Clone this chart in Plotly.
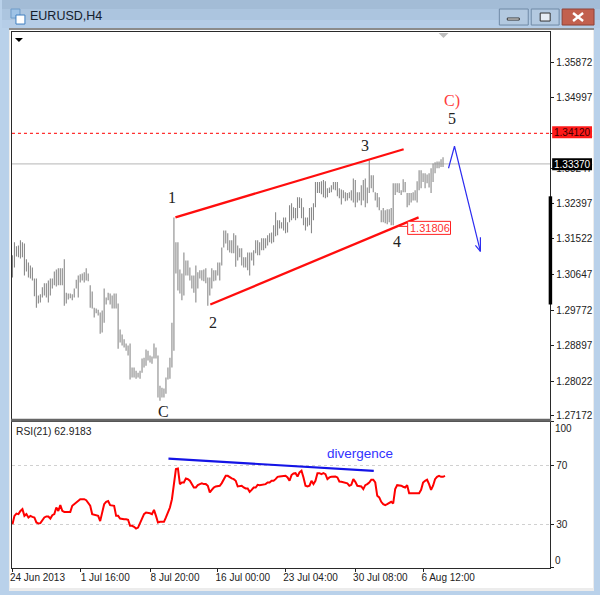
import plotly.graph_objects as go

W, H = 600, 595
VSCALE = 1.005

# ---------- data ----------
HIGH = [
 1.3112,1.3144,1.3134,1.3136,1.3149,1.3144,1.3141,1.3102,1.3094,1.3087,1.3082,1.3055,1.3055,1.3013,1.3016,1.3033,
 1.3043,1.3043,1.3050,1.3055,1.3055,1.3072,1.3077,1.3080,1.3080,1.3080,1.3102,1.3020,1.3018,1.3018,1.3016,1.3030,
 1.3052,1.3062,1.3065,1.3067,1.3070,1.3080,1.3067,1.3038,1.3023,1.2983,1.2981,1.2978,1.2971,1.2976,1.3030,1.3008,
 1.3020,1.3018,1.3013,1.3018,1.3018,1.2993,1.2929,1.2917,1.2905,1.2895,1.2890,1.2895,1.2836,1.2836,1.2828,1.2823,
 1.2828,1.2858,1.2860,1.2880,1.2877,1.2865,1.2863,1.2895,1.2885,1.2865,1.2791,1.2786,1.2784,1.2811,1.2836,1.2860,
 1.2946,1.3205,
 1.3144,1.3144,1.3077,1.3067,1.3119,1.3099,1.3099,1.3082,1.3062,1.3062,1.3087,1.3070,1.3075,1.3075,1.3077,1.3080,
 1.3057,1.3057,1.3080,1.3075,1.3075,1.3094,1.3094,1.3131,1.3173,1.3173,1.3166,1.3149,1.3149,1.3166,1.3161,1.3136,
 1.3129,1.3129,1.3107,1.3107,1.3119,1.3119,1.3119,1.3124,1.3149,1.3149,1.3144,1.3154,1.3154,1.3154,1.3161,1.3166,
 1.3168,1.3186,1.3218,1.3198,1.3198,1.3193,1.3205,1.3205,1.3193,1.3235,1.3240,1.3230,1.3228,1.3255,1.3255,1.3252,
 1.3230,1.3205,1.3205,1.3228,1.3230,1.3240,1.3292,1.3292,1.3292,1.3294,1.3297,1.3294,1.3277,1.3279,1.3284,1.3292,
 1.3292,1.3292,1.3277,1.3274,1.3272,1.3267,1.3265,1.3267,1.3272,1.3301,1.3297,1.3267,1.3267,1.3284,1.3297,1.3301,
 1.3279,1.3346,1.3309,1.3309,1.3267,1.3265,1.3255,1.3223,1.3228,1.3223,1.3225,1.3225,1.3228,1.3289,1.3289,1.3289,
 1.3289,1.3272,1.3299,1.3292,1.3265,1.3265,1.3265,1.3267,1.3272,1.3294,1.3321,1.3321,1.3314,1.3314,1.3311,1.3314,
 1.3326,1.3338,1.3341,1.3343,1.3343,1.3348,1.3353]
LOW = [
 1.3057,1.3082,1.3109,1.3107,1.3104,1.3107,1.3062,1.3072,1.3057,1.3055,1.3050,1.3011,1.2983,1.2993,1.2996,1.3008,
 1.3013,1.3008,1.2996,1.3013,1.3030,1.3038,1.3035,1.3038,1.3038,1.3038,1.2988,1.2993,1.3003,1.3006,1.3001,1.3008,
 1.3030,1.3008,1.3045,1.3050,1.3045,1.3050,1.3048,1.2983,1.2981,1.2959,1.2969,1.2964,1.2919,1.2922,1.2946,1.2991,
 1.3001,1.2991,1.2981,1.2981,1.2981,1.2882,1.2897,1.2890,1.2885,1.2877,1.2865,1.2806,1.2811,1.2811,1.2808,1.2811,
 1.2808,1.2823,1.2836,1.2840,1.2853,1.2848,1.2845,1.2858,1.2858,1.2762,1.2754,1.2762,1.2762,1.2771,1.2806,1.2808,
 1.2836,1.2877,
 1.3067,1.3025,1.3018,1.3001,1.3013,1.3062,1.3062,1.3050,1.3030,1.3020,1.2996,1.3030,1.3055,1.3050,1.3048,1.3043,
 1.2988,1.3013,1.3030,1.3048,1.3050,1.3062,1.3050,1.3087,1.3131,1.3141,1.3124,1.3119,1.3117,1.3117,1.3084,1.3099,
 1.3107,1.3087,1.3082,1.3082,1.3075,1.3062,1.3099,1.3087,1.3117,1.3112,1.3112,1.3124,1.3124,1.3129,1.3136,1.3144,
 1.3141,1.3144,1.3159,1.3161,1.3178,1.3178,1.3173,1.3166,1.3168,1.3193,1.3198,1.3203,1.3198,1.3203,1.3228,1.3203,
 1.3186,1.3173,1.3183,1.3186,1.3166,1.3198,1.3230,1.3265,1.3265,1.3262,1.3255,1.3252,1.3255,1.3265,1.3267,1.3274,
 1.3272,1.3257,1.3252,1.3237,1.3252,1.3245,1.3247,1.3252,1.3247,1.3242,1.3230,1.3242,1.3247,1.3235,1.3247,1.3230,
 1.3240,1.3265,1.3277,1.3267,1.3247,1.3230,1.3223,1.3193,1.3193,1.3191,1.3188,1.3193,1.3186,1.3186,1.3260,1.3267,
 1.3265,1.3260,1.3267,1.3267,1.3230,1.3235,1.3242,1.3247,1.3247,1.3242,1.3272,1.3277,1.3292,1.3277,1.3289,1.3279,
 1.3265,1.3292,1.3314,1.3326,1.3326,1.3329,1.3329]
RSI = [
 29.9,35.6,37.2,36.8,39.0,40.2,35.6,36.8,34.5,35.6,34.9,34.5,31.1,30.4,30.6,32.2,34.5,35.2,35.2,33.8,36.1,36.8,41.3,39.0,
 42.9,39.0,38.3,38.3,38.3,38.3,42.5,43.6,44.3,45.9,47.0,47.0,47.0,46.3,44.3,42.5,36.8,36.3,36.1,35.6,32.0,39.0,43.6,45.2,
 45.7,42.9,42.9,42.5,35.6,35.6,33.8,33.3,33.3,33.3,32.9,28.8,28.8,28.1,26.9,27.6,30.6,33.3,36.8,37.9,37.9,37.4,36.8,39.7,
 35.6,31.1,31.5,31.5,31.5,34.5,37.9,41.3,47.0,58.4,67.6,68.0,57.3,58.4,58.4,61.2,60.7,59.6,57.3,55.0,55.0,56.6,57.3,57.8,
 57.3,57.3,56.2,51.6,53.4,55.0,55.7,55.7,56.2,58.0,60.7,63.0,63.0,61.9,61.2,60.7,59.6,55.7,56.2,56.2,55.0,54.3,54.3,52.0,
 53.4,55.0,55.0,56.8,56.6,56.8,57.3,57.3,58.4,58.4,59.6,59.6,60.7,62.3,62.5,62.5,63.0,63.0,61.9,59.6,63.5,64.6,64.8,62.5,
 65.3,66.4,61.9,56.2,55.7,56.2,59.6,57.3,59.6,64.8,64.8,64.1,64.8,64.1,60.7,61.9,62.3,62.3,62.5,61.9,59.1,58.9,58.4,58.4,
 57.8,56.2,56.8,60.7,58.9,56.2,56.2,55.7,53.9,56.6,57.3,58.4,60.3,60.3,58.4,49.3,48.2,45.2,43.6,42.9,43.6,44.7,45.2,44.1,
 53.9,56.6,56.6,56.2,55.5,55.0,56.6,51.1,51.1,51.1,51.1,51.1,51.1,53.4,58.4,59.6,60.3,57.3,53.4,56.2,60.7,62.3,63.0,62.3,
 62.3,62.9]

PRICE_TICKS = [1.35872,1.34997,1.34122,1.33247,1.32397,1.31522,1.30647,1.29772,1.28897,1.28022,1.27172]
TIME_TICKS = [0,34,69,103,137,172,206]
TIME_LABELS = ["24 Jun 2013","1 Jul 16:00","8 Jul 20:00","16 Jul 00:00","23 Jul 04:00","30 Jul 08:00","6 Aug 12:00"]
RSI_TICKS = [100,70,30,0]

LEVEL_PRICE = 1.3412
BID_PRICE = 1.3337
UPPER_X, UPPER_Y = [81.75,196.25],[1.32053,1.33729]
LOWER_X, LOWER_Y = [99.25,203.75],[1.29908,1.32053]
PATH_X, PATH_Y = [218.75,221.75,234.75],[1.33261,1.33803,1.31215]
HEAD_X, HEAD_Y = [234.75,234.75,234.75,232.25],[1.31560,1.31215,1.31215,1.31363]
DIV_X, DIV_Y = [78.25,181.25],[74.7,66.4]

# ---------- helpers ----------
def px(x): return x / W
def py(y): return 1 - y * VSCALE / H
def rect(x0, y0, x1, y1, fill, line=None, lw=1, layer="below"):
    return dict(type="rect", xref="paper", yref="paper", x0=px(x0), x1=px(x1), y0=py(y0), y1=py(y1),
                fillcolor=fill, line=dict(color=line or fill, width=lw if line else 0), layer=layer)
def seg(x0, y0, x1, y1, color, lw=1, layer="above"):
    return dict(type="line", xref="paper", yref="paper", x0=px(x0), x1=px(x1), y0=py(y0), y1=py(y1),
                line=dict(color=color, width=lw), layer=layer)
def label(x, y, text, color="#222", size=10, family="Liberation Sans", xanchor="center"):
    return dict(x=px(x), y=py(y), xref="paper", yref="paper", text=text, showarrow=False,
                font=dict(color=color, size=size, family=family), xanchor=xanchor, yanchor="middle",
                borderpad=0, bgcolor="rgba(0,0,0,0)")

FONT = "Liberation Sans"
SERIF = "Liberation Serif"

fig = go.Figure()

fig.add_trace(go.Ohlc(x=list(range(len(HIGH))), open=LOW, high=HIGH, low=LOW, close=HIGH,
                      tickwidth=0, increasing=dict(line=dict(color="#8a8a8a", width=1.1)),
                      decreasing=dict(line=dict(color="#8a8a8a", width=1.1)),
                      hoverinfo="skip", showlegend=False, xaxis="x", yaxis="y"))
for xs, ys in [(UPPER_X, UPPER_Y), (LOWER_X, LOWER_Y)]:
    fig.add_trace(go.Scatter(x=xs, y=ys, mode="lines", line=dict(color="#ff0d0d", width=2.3),
                             showlegend=False, hoverinfo="skip", xaxis="x", yaxis="y"))
fig.add_trace(go.Scatter(x=PATH_X, y=PATH_Y, mode="lines", line=dict(color="#2d2df0", width=1.2),
                         showlegend=False, hoverinfo="skip", xaxis="x", yaxis="y"))
fig.add_trace(go.Scatter(x=HEAD_X, y=HEAD_Y, mode="lines", line=dict(color="#2d2df0", width=1.2),
                         showlegend=False, hoverinfo="skip", xaxis="x", yaxis="y"))
fig.add_trace(go.Scatter(x=list(range(len(RSI))), y=RSI, mode="lines", line=dict(color="#ff0000", width=2),
                         showlegend=False, hoverinfo="skip", xaxis="x2", yaxis="y2"))
fig.add_trace(go.Scatter(x=DIV_X, y=DIV_Y, mode="lines", line=dict(color="#1414e6", width=2.2),
                         showlegend=False, hoverinfo="skip", xaxis="x2", yaxis="y2"))

shapes = [
    # window chrome
    rect(0, 0, 600, 9, "#a3bcd6"),
    rect(0, 9, 600, 20, "#acc5df"),
    rect(0, 20, 600, 28, "#b5cde7"),
    rect(7, 28, 594, 590, "#ececec"),
    rect(7, 28, 594, 30, "#8c8c8c"),
    rect(8, 30, 593, 587, "#ffffff"),
    # icon
    rect(9, 9, 18, 18, "#9fc3e6", "#6f9cc8"),
    rect(14, 15, 23, 24, "#ffffff", "#3f7fc0"),
    # window buttons
    rect(499, 9, 528, 25, "#b3c9e0", "#6f8aa6"),
    rect(507, 18, 519, 20, "#ffffff", "#333333"),
    rect(531, 9, 559, 25, "#b3c9e0", "#6f8aa6"),
    rect(540, 13, 550, 21, "#e6edf5", "#333333"),
    rect(562, 9, 594, 25, "#c2604e", "#8f4236"),
    seg(573, 13, 583, 21, "#ffffff", 2.4),
    seg(583, 13, 573, 21, "#ffffff", 2.4),
    # pane separator
    rect(9, 418, 551, 421, "#666666", layer="above"),
    # reference lines on main pane
    dict(type="line", xref="x domain", yref="y", x0=0, x1=1, y0=BID_PRICE, y1=BID_PRICE,
         line=dict(color="#c4c4c4", width=1.2), layer="below"),
    dict(type="line", xref="x domain", yref="y", x0=0, x1=1, y0=LEVEL_PRICE, y1=LEVEL_PRICE,
         line=dict(color="#ff3030", width=1.3, dash="3px,3px"), layer="above"),
    # markers
    dict(type="path", xref="paper", yref="paper", path=f"M {px(13)},{py(38)} L {px(21)},{py(38)} L {px(17)},{py(42)} Z",
         fillcolor="#000000", line=dict(width=0), layer="above"),
    dict(type="path", xref="paper", yref="paper", path=f"M {px(438)},{py(33)} L {px(448)},{py(33)} L {px(443)},{py(38)} Z",
         fillcolor="#bdbdbd", line=dict(width=0), layer="above"),
    # thick scale mark
    rect(548.5, 196, 552, 304, "#000000", layer="above"),
    # price tags
    rect(552, 126, 592, 138, "#ff1a1a", layer="above"),
    rect(552, 158, 592, 170, "#000000", layer="above"),
    # level connector and tag
    seg(397, 226, 407, 226, "#ff2020", 1),
    rect(407, 221, 450, 234, "#ffffff", "#ff2020", 1, layer="above"),
]

annotations = [
    label(27, 16, "EURUSD,H4", "#14202c", 12.5, FONT, "left"),
    label(13, 431, "RSI(21) 62.9183", "#222", 10.3, FONT, "left"),
    label(359, 453, "divergence", "#3232ff", 13.5, FONT),
    label(171, 197, "1", "#222", 16, SERIF),
    label(212, 322, "2", "#222", 16, SERIF),
    label(364, 145, "3", "#222", 16, SERIF),
    label(396, 241, "4", "#222", 16, SERIF),
    label(452, 118, "5", "#222", 16, SERIF),
    label(162, 411, "C", "#222", 16, SERIF),
    label(452, 101, "C)", "#ff3c3c", 16, SERIF),
    label(429, 228, "1.31806", "#ff3030", 11, FONT),
    label(572, 132, "1.34120", "#3c0000", 10, FONT),
    label(572, 164, "1.33370", "#ffffff", 10, FONT),
    label(554, 428, "100", "#222", 10, FONT, "left"),
    label(554, 560, "0", "#222", 10, FONT, "left"),
]

axis_line = dict(showline=True, linecolor="#2a2a2a", linewidth=1, mirror=True, zeroline=False, showgrid=False)

fig.update_layout(
    width=W, height=H, margin=dict(l=0, r=0, t=0, b=0), autosize=False,
    paper_bgcolor="#b9d1ea", plot_bgcolor="#ffffff", showlegend=False,
    hovermode=False, dragmode=False,
    shapes=shapes, annotations=annotations,
    xaxis=dict(domain=[px(10), px(550)], range=[-0.25, 269.75], anchor="y", showticklabels=False,
               ticks="", rangeslider=dict(visible=False), fixedrange=True, **axis_line),
    yaxis=dict(domain=[py(418), py(32)], range=[1.27098, 1.36613], side="right", anchor="x",
               tickmode="array", tickvals=PRICE_TICKS, ticktext=[f"{v:.5f}" for v in PRICE_TICKS],
               ticks="outside", ticklen=3, tickcolor="#222", fixedrange=True,
               tickfont=dict(family=FONT, size=10, color="#222"), **axis_line),
    xaxis2=dict(domain=[px(10), px(550)], range=[-0.25, 269.75], anchor="y2",
                tickmode="array", tickvals=TIME_TICKS, ticktext=TIME_LABELS,
                ticks="outside", ticklen=3, tickcolor="#222", ticklabelshift=25, ticklabelstandoff=-3,
                tickangle=0, fixedrange=True,
                tickfont=dict(family=FONT, size=10, color="#222"), **axis_line),
    yaxis2=dict(domain=[py(567), py(421)], range=[0, 100], side="right", anchor="x2",
                tickmode="array", tickvals=RSI_TICKS, ticktext=["", "70", "30", ""],
                ticks="outside", ticklen=3, tickcolor="#222", fixedrange=True,
                tickfont=dict(family=FONT, size=10, color="#222"),
                showline=True, linecolor="#2a2a2a", linewidth=1, mirror=True, zeroline=False,
                showgrid=True, gridcolor="#d0d0d0", griddash="3px,3px", gridwidth=1),
)

fig.write_html("out.html", post_script="document.body.style.margin='0';document.body.style.overflow='hidden';",
               config=dict(displayModeBar=False))
